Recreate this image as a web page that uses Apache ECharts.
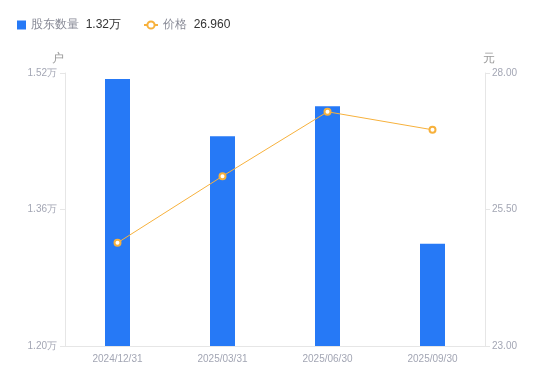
<!DOCTYPE html>
<html>
<head>
<meta charset="utf-8">
<script src="https://cdn.jsdelivr.net/npm/echarts@6/dist/echarts.min.js"></script>
<style>
html, body { margin: 0; padding: 0; background: #fff; }
#chart { width: 550px; height: 381px; }
</style>
</head>
<body>
<div id="chart"></div>
<script>
var dates = ['2024/12/31', '2025/03/31', '2025/06/30', '2025/09/30']
// 股东数量 (户)
var holders = [15130, 14460, 14810, 13200]
// 价格 (元)
var prices = [24.89, 26.11, 27.29, 26.96]
var holderTicks = [12000, 15200]
var priceTicks = [23, 28]

var chart = echarts.init(document.getElementById('chart'))
var labelColor = '#a3a6b4'
var lineColor = '#e6e6e6'

function legendText(name) {
	if (name == '股东数量') return name + '  {v|' + (holders[holders.length - 1] / 10000).toFixed(2) + '万}'
	return name + '  {v|' + prices[prices.length - 1].toFixed(3) + '}'
}
var legendStyle = {
	fontSize: 12, color: '#888a96',
	rich: { v: { fontSize: 12, color: '#333' } }
}

chart.setOption({
	animation: false,
	legend: [{
		left: 12,
		top: 14,
		itemWidth: 9,
		itemHeight: 9,
		formatter: legendText,
		textStyle: legendStyle,
		data: [{ name: '股东数量', icon: 'rect' }]
	}, {
		left: 138,
		top: 14,
		itemWidth: 14,
		itemHeight: 9,
		itemGap: 5,
		formatter: legendText,
		textStyle: legendStyle,
		data: ['价格']
	}],
	grid: { left: 65, right: 65, top: 73, bottom: 35 },
	xAxis: {
		type: 'category',
		data: dates,
		axisLine: { lineStyle: { color: lineColor } },
		axisTick: { show: false },
		axisLabel: { color: labelColor, fontSize: 10, margin: 8 }
	},
	yAxis: [{
		type: 'value',
		name: '户',
		nameTextStyle: { color: '#999', fontSize: 12, padding: [0, 14, 0, 0] },
		nameGap: 8,
		min: holderTicks[0],
		max: holderTicks[1],
		interval: 1600,
		axisLine: { show: true, lineStyle: { color: lineColor } },
		axisTick: { show: true, length: 5, lineStyle: { color: lineColor } },
		splitLine: { show: false },
		axisLabel: {
			color: labelColor, fontSize: 10, margin: 8,
			formatter: function (v) { return (v / 10000).toFixed(2) + '万' }
		}
	}, {
		type: 'value',
		name: '元',
		nameTextStyle: { color: '#999', fontSize: 12, padding: [0, 0, 0, 8] },
		nameGap: 8,
		min: priceTicks[0],
		max: priceTicks[1],
		interval: 2.5,
		axisLine: { show: true, lineStyle: { color: lineColor } },
		axisTick: { show: true, length: 5, lineStyle: { color: lineColor } },
		splitLine: { show: false },
		axisLabel: {
			color: labelColor, fontSize: 10, margin: 7,
			formatter: function (v) { return v.toFixed(2) }
		}
	}],
	series: [{
		name: '股东数量',
		type: 'bar',
		barWidth: 25,
		itemStyle: { color: '#2679f6' },
		data: holders
	}, {
		name: '价格',
		type: 'line',
		yAxisIndex: 1,
		symbol: 'emptyCircle',
		symbolSize: 6,
		lineStyle: { color: '#f7b13c', width: 1 },
		itemStyle: { color: '#f7b13c', borderWidth: 1.5 },
		data: prices
	}]
})
</script>
</body>
</html>
